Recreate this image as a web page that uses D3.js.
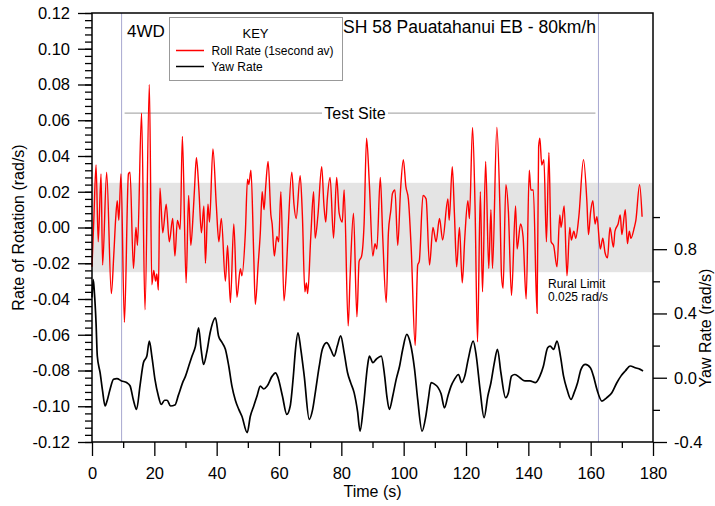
<!DOCTYPE html>
<html>
<head>
<meta charset="utf-8">
<script src="https://cdn.jsdelivr.net/npm/d3@7"></script>
<style>
  body { margin: 0; background: #fff; }
  text { font-family: "Liberation Sans", Arial, sans-serif; fill: #000; }
</style>
</head>
<body>
<svg id="chart"></svg>
<script>
// roll rate (1 s average), time in s
const rollTime = [0.0,0.6,1.3,2.0,2.9,3.4,4.7,6.2,7.0,7.6,8.1,8.6,9.3,10.4,11.7,12.2,13.3,14.1,14.6,15.9,17.0,18.4,19.2,19.8,20.4,20.8,21.3,21.8,22.7,23.8,24.8,25.9,26.6,27.4,28.3,29.0,30.2,31.0,31.7,32.5,32.9,33.5,34.3,35.1,35.9,36.4,37.2,37.7,38.8,39.9,40.7,41.5,42.8,43.5,44.4,45.5,46.5,47.6,48.1,49.2,49.9,50.3,51.0,51.9,52.4,53.3,54.0,54.6,55.2,55.7,56.5,57.4,57.8,58.5,59.3,59.9,60.6,61.6,62.4,62.9,64.1,64.8,65.5,66.8,67.5,68.3,68.8,69.2,70.2,71.1,71.6,72.5,73.7,74.4,75.0,75.5,76.4,77.5,78.5,79.3,80.3,80.9,82.2,82.8,83.9,85.0,85.7,86.5,87.3,88.1,89.0,90.1,90.8,91.4,92.5,93.3,94.4,95.1,95.9,96.4,97.2,98.1,99.0,99.9,100.7,101.5,102.4,103.7,104.5,105.0,106.2,107.2,108.3,109.4,110.4,111.5,112.5,114.2,114.6,115.6,116.3,117.0,117.9,118.8,119.6,120.6,121.1,122.1,122.9,123.7,124.6,125.3,126.3,127.3,128.0,128.5,129.9,130.9,131.4,131.9,132.8,133.6,134.6,135.9,136.4,137.5,138.3,139.3,140.3,140.8,141.6,142.8,143.3,143.7,144.3,145.0,145.8,146.6,147.3,148.1,149.2,150.1,150.5,151.5,152.4,153.3,153.8,154.6,155.2,156.2,157.7,158.8,159.3,160.0,160.7,161.4,162.0,163.1,163.9,164.6,165.4,166.2,167.3,167.8,168.8,169.5,170.0,171.1,171.8,172.4,172.9,174.0,174.5,175.7,176.5];
const rollRate = [-0.022,0.005,0.035,-0.008,0.030,-0.021,0.031,-0.037,-0.015,0.005,0.015,0.004,0.030,-0.053,0.030,0.031,-0.023,0.000,-0.010,0.064,-0.046,0.080,-0.032,-0.024,-0.030,-0.026,-0.035,0.022,-0.003,0.013,-0.008,0.005,-0.016,0.004,-0.001,0.051,-0.031,0.018,-0.010,0.009,0.022,0.039,0.021,-0.003,0.012,-0.020,0.013,0.003,0.044,0.012,-0.008,0.005,-0.030,-0.010,-0.042,0.002,-0.039,-0.023,-0.027,-0.003,0.027,0.024,0.032,-0.016,-0.043,-0.021,-0.003,0.020,0.010,0.022,0.037,0.007,0.002,-0.016,-0.005,-0.008,0.020,-0.041,-0.023,-0.003,0.031,0.013,0.005,0.029,0.007,-0.036,-0.031,-0.037,-0.005,0.020,-0.006,0.007,0.034,0.013,0.003,0.016,0.028,-0.006,0.028,0.008,0.003,0.021,-0.055,-0.028,0.008,-0.050,-0.019,-0.016,0.002,0.050,0.024,-0.016,-0.009,-0.012,0.028,-0.006,-0.042,-0.003,0.010,0.019,0.021,-0.010,0.021,0.038,0.023,0.016,-0.011,-0.066,-0.021,-0.019,0.018,0.016,-0.021,0.000,-0.008,0.005,-0.007,0.016,0.004,0.034,0.007,-0.022,0.000,-0.031,-0.006,0.015,0.005,0.056,0.012,-0.064,0.020,-0.036,0.037,-0.023,0.010,-0.023,0.056,0.010,-0.027,-0.034,0.024,0.009,-0.038,0.012,-0.012,0.002,-0.005,-0.040,0.032,0.021,0.021,-0.048,0.045,0.050,0.035,0.038,-0.008,0.042,-0.008,-0.010,-0.022,0.007,0.000,0.012,-0.027,0.000,-0.007,-0.002,-0.006,0.006,0.038,0.014,-0.004,0.009,0.015,0.002,0.006,-0.012,-0.006,-0.014,-0.017,0.000,-0.011,-0.002,0.002,0.007,-0.004,0.010,-0.009,-0.002,-0.006,0.000,0.004,0.024,0.006];

// yaw rate, right axis
const yawTime = [0.0,0.4,0.8,1.3,1.7,2.6,3.4,4.2,4.9,5.8,6.9,8.0,9.5,11.1,12.2,13.3,14.3,15.4,16.5,17.6,18.4,19.2,20.2,21.3,22.2,23.3,24.1,25.2,26.6,27.7,29.3,30.0,31.0,32.1,33.2,34.2,35.0,35.8,36.8,37.9,39.6,40.6,41.7,42.8,43.9,44.9,46.0,47.1,48.1,49.8,50.8,51.9,53.0,54.0,55.1,56.2,57.8,58.9,59.7,61.1,62.5,63.6,64.6,65.3,66.1,67.0,68.1,69.7,70.8,71.8,72.9,73.9,75.3,76.6,77.7,78.7,79.8,80.9,82.0,83.0,84.1,85.2,86.0,87.1,88.4,89.0,90.1,91.2,92.8,93.9,94.6,95.4,96.5,97.6,98.7,99.7,101.0,102.1,103.5,104.5,105.9,107.1,107.9,108.8,109.9,111.0,112.0,113.1,114.2,115.2,116.3,117.6,118.6,119.6,120.7,122.3,123.3,124.5,125.8,127.0,128.0,129.1,130.1,131.2,132.7,133.6,134.6,135.7,137.3,138.9,140.5,142.3,143.7,144.8,146.2,147.0,148.1,149.2,150.3,151.3,152.4,153.7,154.7,155.8,156.9,158.3,159.9,160.9,162.0,163.6,165.1,166.8,168.4,169.7,171.1,172.7,174.3,175.9,176.8];
const yawRate = [0.50,0.61,0.52,0.34,0.135,0.031,-0.083,-0.176,-0.14,-0.072,-0.01,-0.005,-0.02,-0.03,-0.05,-0.14,-0.197,-0.05,0.093,0.135,0.228,0.135,-0.01,-0.114,-0.166,-0.14,-0.14,-0.176,-0.17,-0.11,-0.02,0.01,0.07,0.135,0.197,0.311,0.18,0.083,0.156,0.28,0.373,0.26,0.22,0.177,0.07,-0.052,-0.14,-0.197,-0.24,-0.342,-0.24,-0.176,-0.11,-0.052,-0.07,-0.052,0.01,0.03,0.0,-0.114,-0.228,-0.176,0.01,0.177,0.28,0.177,0.01,-0.259,-0.197,-0.072,0.07,0.177,0.218,0.177,0.135,0.197,0.26,0.156,0.031,-0.031,-0.093,-0.21,-0.332,-0.176,0.073,0.135,0.094,0.115,0.135,0.01,-0.114,-0.197,-0.114,-0.01,0.073,0.177,0.27,0.218,0.052,-0.135,-0.332,-0.24,-0.135,-0.031,-0.04,-0.06,-0.10,-0.187,-0.114,-0.052,-0.01,0.02,-0.03,0.01,0.114,0.228,0.135,-0.072,-0.249,-0.114,-0.031,0.094,0.177,0.031,-0.124,-0.093,0.01,0.02,0.0,-0.02,-0.02,-0.03,0.01,0.07,0.187,0.197,0.177,0.228,0.135,0.01,-0.072,-0.135,-0.093,-0.031,0.052,0.083,0.062,0.01,-0.072,-0.145,-0.125,-0.093,-0.031,0.01,0.042,0.073,0.062,0.052,0.042];

const xTicks = [0,20,40,60,80,100,120,140,160,180];
const leftTicks = [-0.12,-0.10,-0.08,-0.06,-0.04,-0.02,0.00,0.02,0.04,0.06,0.08,0.10,0.12];
const rightTicks = [-0.4,0.0,0.4,0.8];
const rightMinor = [-0.2,0.2,0.6,1.0];
const ruralLimit = 0.025;
const siteStart = 9.5, siteEnd = 162.5;

const W = 715, H = 506;
const m = {top: 13, right: 62, bottom: 64, left: 92};
const iw = W - m.left - m.right, ih = H - m.top - m.bottom;

const svg = d3.select('#chart').attr('width', W).attr('height', H);
const g = svg.append('g').attr('transform', `translate(${m.left},${m.top})`);

const x = d3.scaleLinear().domain([0, 180]).range([0, iw]);
const y = d3.scaleLinear().domain([-0.12, 0.12]).range([ih, 0]);
const y2 = d3.scaleLinear().domain([-0.4, 2.27]).range([ih, 0]);

// rural limit band
g.append('rect')
  .attr('x', 0).attr('width', iw)
  .attr('y', y(ruralLimit)).attr('height', y(-ruralLimit) - y(ruralLimit))
  .attr('fill', '#e4e4e4');

// test site markers
[siteStart, siteEnd].forEach(t => {
  g.append('line')
    .attr('x1', x(t)).attr('x2', x(t)).attr('y1', 0).attr('y2', ih)
    .attr('stroke', '#a8a8d0').attr('stroke-width', 1);
});
const siteY = y(0.064);
g.append('line').attr('x1', x(siteStart) + 3).attr('x2', 230).attr('y1', siteY).attr('y2', siteY)
  .attr('stroke', '#999').attr('stroke-width', 1);
g.append('line').attr('x1', 296).attr('x2', x(siteEnd) - 3).attr('y1', siteY).attr('y2', siteY)
  .attr('stroke', '#999').attr('stroke-width', 1);
g.append('text').attr('x', 263).attr('y', siteY).attr('dy', '0.35em')
  .attr('text-anchor', 'middle').style('font-size', '16px').text('Test Site');

// series
const rollLine = d3.line().curve(d3.curveMonotoneX).x((d, i) => x(rollTime[i])).y(d => y(d));
const yawLine = d3.line().curve(d3.curveMonotoneX).x((d, i) => x(yawTime[i])).y(d => y2(d));

g.append('path').datum(yawRate).attr('d', yawLine)
  .attr('fill', 'none').attr('stroke', '#000').attr('stroke-width', 1.7);
g.append('path').datum(rollRate).attr('d', rollLine)
  .attr('fill', 'none').attr('stroke', '#ff0000').attr('stroke-width', 1.4);

// axes
const fmt2 = d => d3.format('.2f')(d).replace('\u2212', '-');
const fmt1 = d => d3.format('.1f')(d).replace('\u2212', '-');

const leftMinor = d3.range(-0.12, 0.1201, 0.004);
g.append('g').call(d3.axisLeft(y).tickValues(leftMinor).tickSize(7).tickFormat(''));
g.append('g').call(d3.axisLeft(y).tickValues(leftTicks).tickSize(14).tickPadding(8).tickFormat(fmt2));

g.append('g').attr('transform', `translate(0,${ih})`)
  .call(d3.axisBottom(x).tickValues(d3.range(10, 180, 20)).tickSize(6).tickFormat(''));
g.append('g').attr('transform', `translate(0,${ih})`)
  .call(d3.axisBottom(x).tickValues(xTicks).tickSize(14).tickPadding(11).tickFormat(d3.format('d')));

g.append('g').attr('transform', `translate(${iw},0)`)
  .call(d3.axisRight(y2).tickValues(rightMinor).tickSize(7).tickFormat(''));
g.append('g').attr('transform', `translate(${iw},0)`)
  .call(d3.axisRight(y2).tickValues(rightTicks).tickSize(14).tickPadding(7).tickFormat(fmt1));

g.selectAll('.tick text').style('font-size', '16.5px').style('font-family', '"Liberation Sans", Arial, sans-serif');
g.selectAll('.domain').remove();
g.selectAll('.tick line').attr('stroke-width', 1.3);

// frame
g.append('rect').attr('width', iw).attr('height', ih)
  .attr('fill', 'none').attr('stroke', '#000').attr('stroke-width', 1.5);

// axis titles
svg.append('text').attr('transform', `translate(18,${m.top + ih / 2}) rotate(-90)`)
  .attr('text-anchor', 'middle').attr('dy', '0.35em').style('font-size', '16px')
  .text('Rate of Rotation (rad/s)');
svg.append('text').attr('x', m.left + iw / 2).attr('y', 497)
  .attr('text-anchor', 'middle').style('font-size', '16px').text('Time (s)');
svg.append('text').attr('transform', `translate(705,328) rotate(-90)`)
  .attr('text-anchor', 'middle').attr('dy', '0.35em').style('font-size', '16px')
  .text('Yaw Rate (rad/s)');

// annotations
svg.append('text').attr('x', 127).attr('y', 37).style('font-size', '17px').text('4WD');
svg.append('text').attr('x', 343).attr('y', 33).style('font-size', '17.5px').text('SH 58 Pauatahanui EB - 80km/h');
svg.append('text').attr('x', 548).attr('y', 288).style('font-size', '12px').text('Rural Limit');
svg.append('text').attr('x', 548).attr('y', 301).style('font-size', '12px').text('0.025 rad/s');

// legend
const lg = svg.append('g').attr('transform', 'translate(169.5,17.5)');
lg.append('rect').attr('width', 173).attr('height', 63)
  .attr('fill', '#fff').attr('stroke', '#999').attr('stroke-width', 1);
lg.append('text').attr('x', 86).attr('y', 20).attr('text-anchor', 'middle')
  .style('font-size', '13px').text('KEY');
const keys = [['Roll Rate (1second av)', '#ff0000'], ['Yaw Rate', '#000']];
keys.forEach((k, i) => {
  const ky = 33 + i * 16;
  lg.append('line').attr('x1', 6.5).attr('x2', 34.5).attr('y1', ky).attr('y2', ky)
    .attr('stroke', k[1]).attr('stroke-width', 1.5);
  lg.append('text').attr('x', 42).attr('y', ky).attr('dy', '0.35em')
    .style('font-size', '12px').text(k[0]);
});
</script>
</body>
</html>
